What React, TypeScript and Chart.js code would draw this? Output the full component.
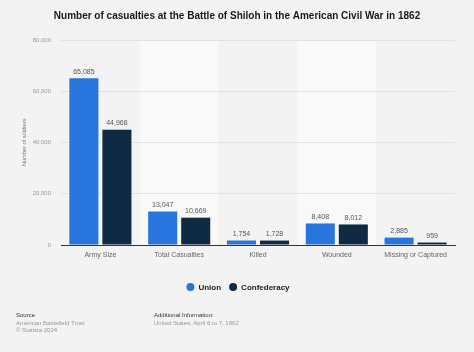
import React, { useEffect, useRef } from "react";
import { Chart, registerables } from "chart.js";

Chart.register(...registerables);

const titleText = "Number of casualties at the Battle of Shiloh in the American Civil War in 1862";
const categories = ["Army Size", "Total Casualties", "Killed", "Wounded", "Missing or Captured"];
const seriesNames = ["Union", "Confederacy"];
const unionValues = [65085, 13047, 1754, 8408, 2885];
const confederacyValues = [44968, 10669, 1728, 8012, 959];
const yTickValues = [0, 20000, 40000, 60000, 80000];
const yAxisTitle = "Number of soldiers";
const sourceLines = ["American Battlefield Trust", "© Statista 2024"];
const infoLines = ["United States; April 6 to 7, 1862"];

const FONT = "'Liberation Sans', Arial, Helvetica, sans-serif";
const BG = "#f3f3f3";
const BAND = "#f9f9f9";
const COLORS = ["#2876dd", "#0f2a42"];

const fmt = (v: number) => v.toLocaleString("en-US");

const decorPlugin = {
  id: "decor",
  beforeDraw(chart: any) {
    const ctx = chart.ctx;
    const { width, height } = chart;
    ctx.save();
    ctx.fillStyle = BG;
    ctx.fillRect(0, 0, width, height);
    const xs = chart.scales.x;
    const area = chart.chartArea;
    const w = (area.right - area.left) / categories.length;
    ctx.fillStyle = BAND;
    categories.forEach((_, i) => {
      if (i % 2 === 1) {
        const cx = xs.getPixelForValue(i);
        ctx.fillRect(cx - w / 2, area.top, w, area.bottom - area.top);
      }
    });
    ctx.restore();
  },
  afterDatasetsDraw(chart: any) {
    const ctx = chart.ctx;
    ctx.save();
    ctx.font = `7px ${FONT}`;
    ctx.fillStyle = "#555";
    ctx.textAlign = "center";
    ctx.textBaseline = "middle";
    chart.data.datasets.forEach((ds: any, di: number) => {
      const meta = chart.getDatasetMeta(di);
      meta.data.forEach((el: any, i: number) => {
        ctx.fillText(fmt(ds.data[i]), el.x, el.y - 6.5);
      });
    });
    ctx.restore();
  },
  afterDraw(chart: any) {
    const ctx = chart.ctx;
    const area = chart.chartArea;
    ctx.save();
    // title
    ctx.font = `bold 10px ${FONT}`;
    ctx.fillStyle = "#1a1a1a";
    ctx.textAlign = "center";
    ctx.textBaseline = "middle";
    ctx.fillText(titleText, 237, 16.5);

    // y axis title
    ctx.save();
    ctx.translate(24.5, (area.top + area.bottom) / 2);
    ctx.rotate(-Math.PI / 2);
    ctx.font = `5.7px ${FONT}`;
    ctx.fillStyle = "#777";
    ctx.textAlign = "center";
    ctx.textBaseline = "middle";
    ctx.fillText(yAxisTitle, 0, 0);
    ctx.restore();

    // legend
    ctx.font = `bold 8px ${FONT}`;
    ctx.textBaseline = "middle";
    ctx.textAlign = "left";
    const r = 4;
    const gapCircleText = 4;
    const gapItems = 8;
    const widths = seriesNames.map((n) => ctx.measureText(n).width);
    const total = widths.reduce((a, w) => a + 2 * r + gapCircleText + w, 0) + gapItems * (seriesNames.length - 1);
    let x = 238 - total / 2;
    const ly = 287;
    seriesNames.forEach((n, i) => {
      ctx.beginPath();
      ctx.fillStyle = COLORS[i];
      ctx.arc(x + r, ly, r, 0, Math.PI * 2);
      ctx.fill();
      ctx.fillStyle = "#222";
      ctx.fillText(n, x + 2 * r + gapCircleText, ly + 0.5);
      x += 2 * r + gapCircleText + widths[i] + gapItems;
    });

    // footer
    ctx.font = `6px ${FONT}`;
    ctx.fillStyle = "#333";
    ctx.fillText("Source", 16, 315);
    ctx.fillText("Additional Information:", 154, 315);
    ctx.fillStyle = "#999";
    sourceLines.forEach((l, i) => ctx.fillText(l, 16, 323 + i * 7.5));
    infoLines.forEach((l, i) => ctx.fillText(l, 154, 323 + i * 7.5));
    ctx.restore();
  },
};

export default function App() {
  const ref = useRef<HTMLCanvasElement | null>(null);
  useEffect(() => {
    document.body.style.margin = "0";
    document.body.style.background = BG;
    const canvas = ref.current!;
    const chart = new Chart(canvas, {
      type: "bar",
      data: {
        labels: categories,
        datasets: [
          {
            label: seriesNames[0],
            data: unionValues,
            backgroundColor: COLORS[0],
            categoryPercentage: 0.838,
            barPercentage: 0.88,
          },
          {
            label: seriesNames[1],
            data: confederacyValues,
            backgroundColor: COLORS[1],
            categoryPercentage: 0.838,
            barPercentage: 0.88,
          },
        ],
      },
      options: {
        responsive: false,
        animation: false,
        devicePixelRatio: 1,
        layout: { padding: { top: 40, left: 0, right: 19, bottom: 87 } },
        plugins: {
          legend: { display: false },
          title: { display: false },
          tooltip: { enabled: false },
        },
        scales: {
          x: {
            grid: { display: false, drawTicks: false },
            border: { display: true, color: "#333", width: 1 },
            ticks: {
              color: "#666",
              font: { family: FONT, size: 7 },
              padding: 6,
              maxRotation: 0,
              autoSkip: false,
            },
            afterFit: (s: any) => {
              s.height = 20;
            },
          },
          y: {
            min: 0,
            max: 80000,
            grid: { color: "#e4e4e4", drawTicks: false, lineWidth: 1 },
            border: { display: false },
            ticks: {
              color: "#999",
              font: { family: FONT, size: 6 },
              padding: 10,
              callback: (v: any) => fmt(Number(v)),
            },
            afterBuildTicks: (s: any) => {
              s.ticks = yTickValues.map((v) => ({ value: v }));
            },
            afterFit: (s: any) => {
              s.width = 61;
            },
          },
        },
      },
      plugins: [decorPlugin],
    });
    return () => chart.destroy();
  }, []);
  return <canvas ref={ref} width={474} height={352} style={{ display: "block" }} />;
}
